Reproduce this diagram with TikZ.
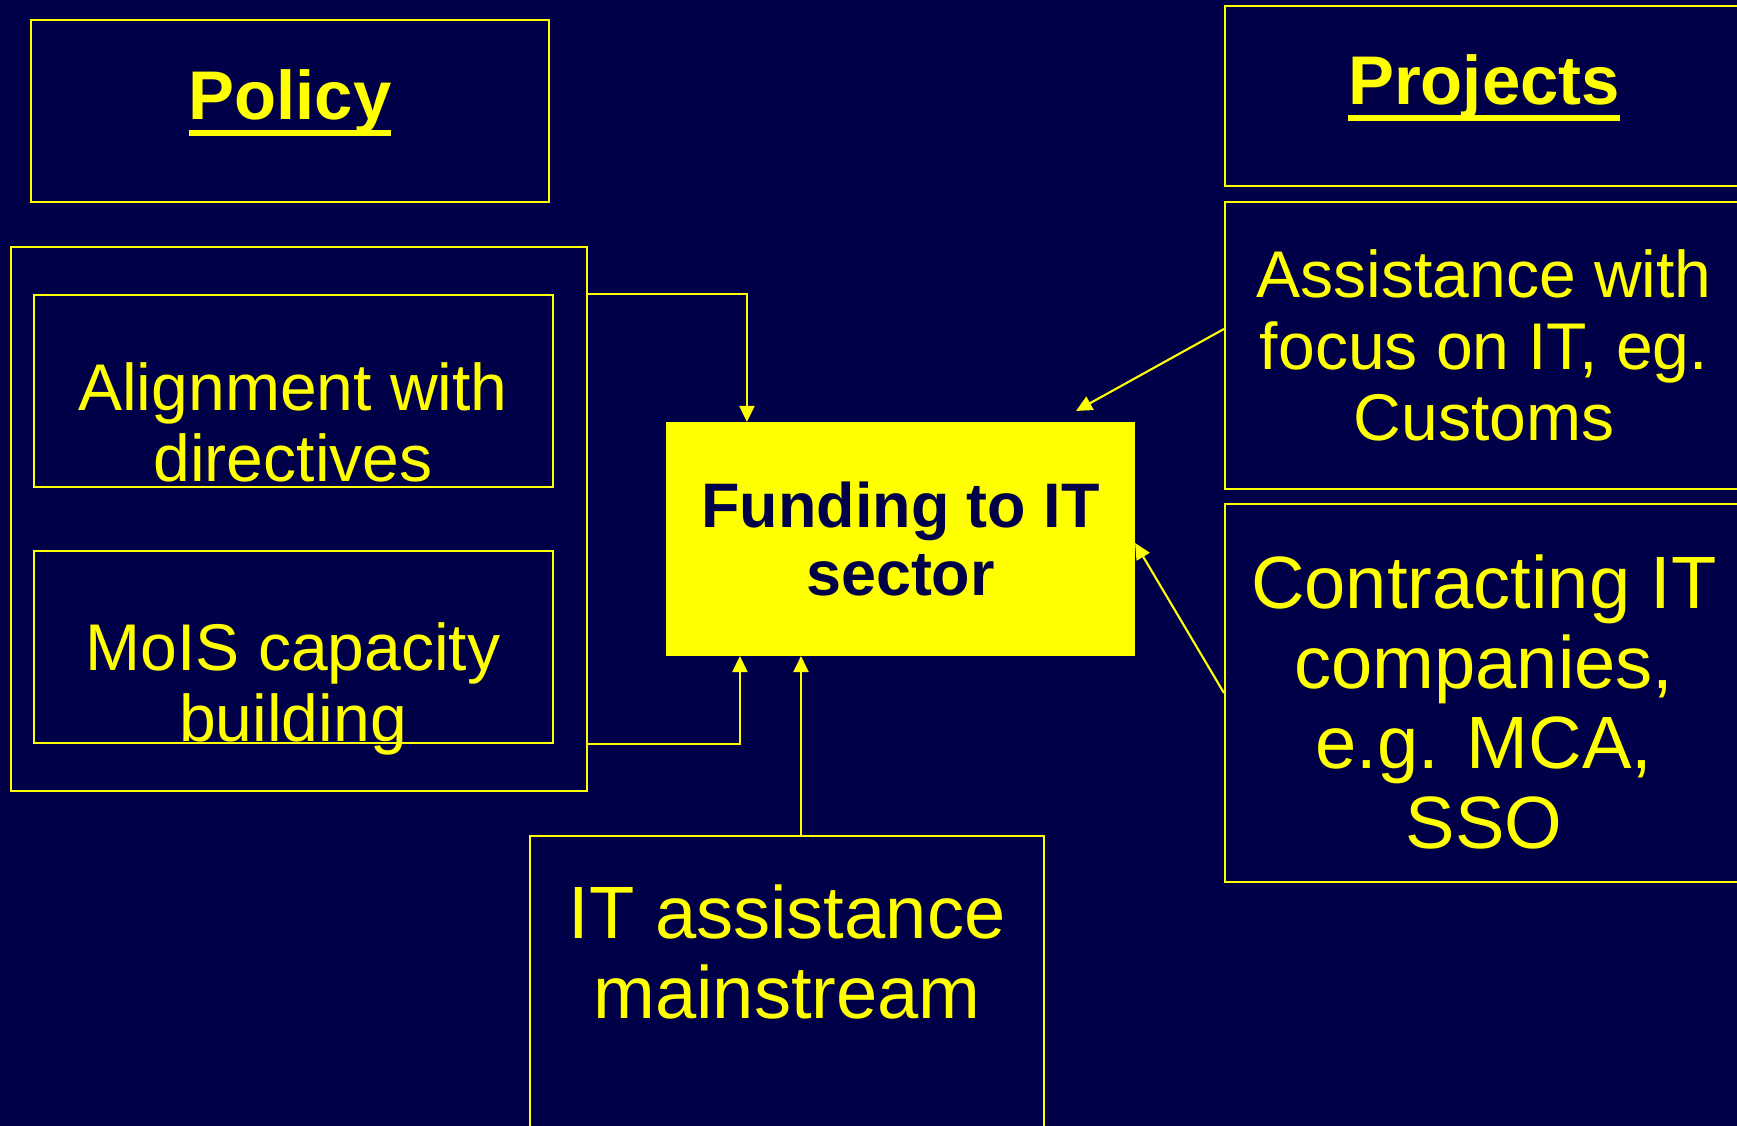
\documentclass[tikz,border=0pt]{standalone}
\usepackage{fontspec}
\setmainfont{Liberation Sans}
\usepackage{xcolor}
\usetikzlibrary{arrows.meta, positioning}
\definecolor{slidenavy}{RGB}{0, 0, 72}
\definecolor{slideyellow}{RGB}{255, 255, 0}
\newcommand{\ulbold}[1]{\setbox0\hbox{#1}\rlap{\copy0}\rule[-0.23em]{\wd0}{0.09em}}

\begin{document}
\begin{tikzpicture}[x=0.1mm, y=-0.1mm,
  box/.style={draw=slideyellow, line width=0.6pt},
  txt/.style={text=slideyellow, align=center, inner sep=0pt, font=\fontsize{18.8}{20.4}\selectfont},
  bigtxt/.style={text=slideyellow, align=center, inner sep=0pt, font=\fontsize{21.1}{22.7}\selectfont},
  title/.style={text=slideyellow, inner sep=0pt, font=\bfseries\fontsize{19.6}{22}\selectfont},
  arr/.style={draw=slideyellow, line width=0.6pt, -{Triangle[length=1.6mm, width=1.5mm]}}]
\fill[slidenavy] (0,0) rectangle (1737,1126);
\useasboundingbox (0,0) rectangle (1737,1126);

% policy side
\node[box, minimum width=51.8mm, minimum height=18.2mm] (policy) at (290,111) {};
\node[title, anchor=base] (policyt) at (290,120) {\ulbold{Policy}};
\node[box, minimum width=57.6mm, minimum height=54.4mm] (policyall) at (299,519) {};
\node[box, minimum width=51.9mm, minimum height=19.2mm] (align) at (293.5,391) {};
\node[txt] (alignt) at (293,422.5) {Alignment with\\directives};
\node[box, minimum width=51.9mm, minimum height=19.2mm] (mois) at (293.5,647) {};
\node[txt] (moist) at (293,689) {MoIS capacity\\building};

% centre
\node[box, fill=slideyellow, text=slidenavy, align=center, inner sep=0pt,
  font=\bfseries\fontsize{17.9}{19.6}\selectfont,
  minimum width=46.7mm, minimum height=23.2mm] (funding) at (900.5,539) {Funding to IT\\sector};
\node[box, minimum width=51.4mm, minimum height=32mm] (itassist) at (787,996) {};
\node[bigtxt] (itassistt) at (787,952) {IT assistance\\mainstream};

% projects side
\node[box, minimum width=51.8mm, minimum height=18mm] (projects) at (1484,96) {};
\node[title, anchor=base] (projectst) at (1484,105) {\ulbold{Projects}};
\node[box, txt, minimum width=51.8mm, minimum height=28.7mm] (assist) at (1484,345.5) {Assistance with\\focus on IT, eg.\\Customs};
\node[box, minimum width=51.8mm, minimum height=37.8mm] (contract) at (1484,693) {};
\node[bigtxt] (contractt) at (1484,702) {Contracting IT\\companies,\\e.g. MCA,\\SSO};

% arrows
\draw[arr] (policyall.east |- align.north) -| ([xshift=8.1mm]funding.north west);
\draw[arr] (policyall.east |- mois.south) -| ([xshift=7.4mm]funding.south west);
\draw[arr] ([xshift=1.4mm]itassist.north) -- ([xshift=1.4mm]itassist.north |- funding.south);
\draw[arr] ([yshift=1.65mm]assist.west) -- ([xshift=-5.9mm, yshift=1.1mm]funding.north east);
\draw[arr] (contract.west) -- ([yshift=-0.4mm]funding.east);
\end{tikzpicture}
\end{document}
